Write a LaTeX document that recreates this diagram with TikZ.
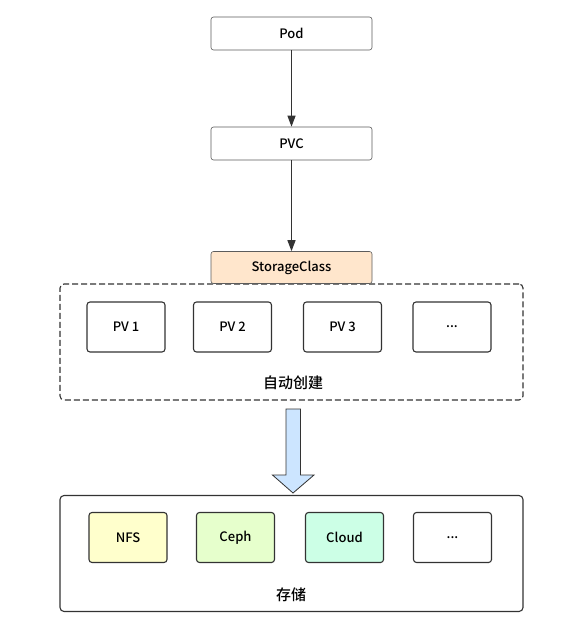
\documentclass[tikz,border=0pt]{standalone}
\usepackage{fontspec}
\setmainfont{Noto Sans CJK SC}[BoldFont={Noto Sans CJK SC Medium}]
\usepackage{xcolor}
\usetikzlibrary{arrows.meta}

\definecolor{scfill}{HTML}{FFE6CC}
\definecolor{nfsfill}{HTML}{FFFFCC}
\definecolor{cephfill}{HTML}{E6FFCC}
\definecolor{cloudfill}{HTML}{CCFFE6}
\definecolor{bigfill}{HTML}{CCE5FF}
\definecolor{edge}{HTML}{333333}

\tikzset{
  topbox/.style={draw=edge!80, rounded corners=2.5pt, minimum width=161pt, minimum height=33pt, font=\fontsize{13}{14}\bfseries, line width=0.6pt},
  itembox/.style={draw=edge, rounded corners=3pt, minimum width=78pt, minimum height=50pt, font=\fontsize{13}{14}\bfseries, line width=1.1pt},
  groupbox/.style={draw=edge, rounded corners=4pt, minimum width=463pt, minimum height=116pt, line width=1.1pt},
}

\begin{document}
\begin{tikzpicture}[x=1pt, y=-1pt]
  \useasboundingbox (0,0) rectangle (583,628);

  \node[topbox] (pod) at (291.5,33.5) {Pod};
  \node[topbox] (pvc) at (291.5,143.5) {PVC};

  \node[groupbox, dashed, dash pattern=on 6pt off 3pt] (auto) at (291.5,342) {};
  \node[topbox, fill=scfill, minimum height=32pt] (sc) at (291.5,267.5) {StorageClass};

  \node[itembox] (pv1) at (126,327) {PV 1};
  \node[itembox] (pv2) at (232.5,327) {PV 2};
  \node[itembox] (pv3) at (342.5,327) {PV 3};
  \node[itembox] (pvx) at (452,327) {...};
  \node[font=\fontsize{15}{16}\bfseries] (autolbl) at (293,383) {自动创建};

  \node[groupbox] (store) at (291.5,553.5) {};
  \node[itembox, fill=nfsfill] (nfs) at (128,537.5) {NFS};
  \node[itembox, fill=cephfill] (ceph) at (235.5,537.5) {Ceph};
  \node[itembox, fill=cloudfill] (cloud) at (344.5,537.5) {Cloud};
  \node[itembox] (stx) at (452.5,537.5) {...};
  \node[font=\fontsize{15}{16}\bfseries] (storelbl) at (291,595) {存储};

  \draw[-{Triangle[length=11pt,width=8pt]}, line width=1.1pt, edge] (pod) -- (pvc);
  \draw[-{Triangle[length=11pt,width=8pt]}, line width=1.1pt, edge] (pvc) -- (sc);

  % big arrow
  \draw[fill=bigfill, draw=edge, line width=0.8pt, line join=miter]
    (286,409) -- (300.5,409) -- (300.5,475) -- (314,475) -- (293,493)
    -- (272.5,475) -- (286,475) -- cycle;
\end{tikzpicture}
\end{document}
